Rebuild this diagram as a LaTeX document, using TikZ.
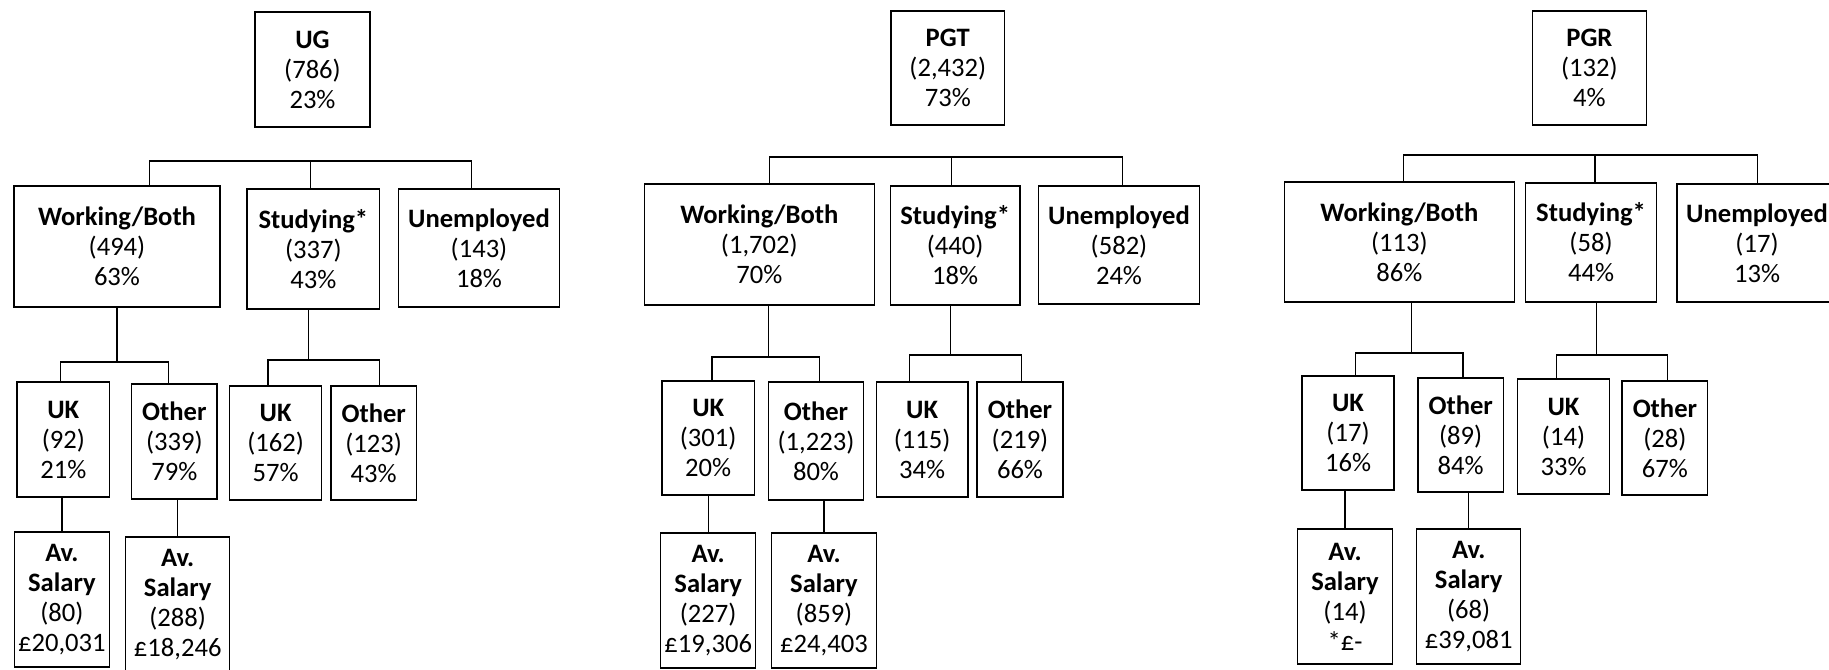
\documentclass[tikz,border=0pt]{standalone}
\usepackage{fontspec}
\setmainfont{Carlito}

\begin{document}
\begin{tikzpicture}[x=0.5pt,y=-0.5pt,line width=0.65pt,
		box/.style={draw, align=center, inner sep=0pt, font=\fontsize{13.3}{15}\selectfont}]
			\path[use as bounding box, clip] (0,0) rectangle (1829,669);

			\node[box, minimum width=57.5pt, minimum height=57.5pt] (ug) at (312.5,69.5) {\textbf{UG}\\(786)\\23\%};
			\node[box, minimum width=103pt, minimum height=60.5pt] (wb1) at (117,246.5) {\textbf{Working/Both}\\(494)\\63\%};
			\node[box, minimum width=66.3pt, minimum height=60pt] (st1) at (313.3,249) {\textbf{Studying*}\\(337)\\43\%};
			\node[box, minimum width=80.5pt, minimum height=59pt] (un1) at (479,248) {\textbf{Unemployed}\\(143)\\18\%};
			\node[box, minimum width=46.3pt, minimum height=57.5pt] (uk1) at (63.3,439.5) {\textbf{UK}\\(92)\\21\%};
			\node[box, minimum width=42.7pt, minimum height=57.5pt] (ot1) at (174.4,441.5) {\textbf{Other}\\(339)\\79\%};
			\node[box, minimum width=45.9pt, minimum height=57pt] (uk1s) at (275.6,443) {\textbf{UK}\\(162)\\57\%};
			\node[box, minimum width=42.7pt, minimum height=57pt] (ot1s) at (373.7,443) {\textbf{Other}\\(123)\\43\%};
			\node[box, minimum width=47.7pt, minimum height=67.5pt] (sa1) at (61.9,599.5) {\textbf{Av.}\\\textbf{Salary}\\(80)\\£20,031};
			\node[box, minimum width=52pt, minimum height=67.5pt] (sb1) at (177.7,604.5) {\textbf{Av.}\\\textbf{Salary}\\(288)\\£18,246};

			\coordinate (ugl) at (149.5,161);
			\coordinate (ugm) at (310.4,161);
			\coordinate (ugr) at (471.3,161);
			\draw (wb1.north -| ugl) -- (ugl) -- (ugr) -- (un1.north -| ugr);
			\draw (ugm) -- (st1.north -| ugm);
			\coordinate (w1l) at (60.5,362);
			\coordinate (w1r) at (168.8,362);
			\draw (wb1.south) -- (wb1.south |- w1l);
			\draw (uk1.north -| w1l) -- (w1l) -- (w1r) -- (ot1.north -| w1r);
			\coordinate (s1l) at (268,360);
			\coordinate (s1m) at (308.4,360);
			\coordinate (s1r) at (379.6,360);
			\draw (st1.south -| s1m) -- (s1m);
			\draw (uk1s.north -| s1l) -- (s1l) -- (s1r) -- (ot1s.north -| s1r);
			\draw (uk1.south -| sa1.north) -- (sa1.north);
			\draw (ot1.south -| sb1.north) -- (sb1.north);

			\node[box, minimum width=56.9pt, minimum height=57pt] (pgt) at (947.8,68) {\textbf{PGT}\\(2,432)\\73\%};
			\node[box, minimum width=114.9pt, minimum height=60.5pt] (wb2) at (759.3,244.5) {\textbf{Working/Both}\\(1,702)\\70\%};
			\node[box, minimum width=64.7pt, minimum height=59.5pt] (st2) at (955.2,245.5) {\textbf{Studying*}\\(440)\\18\%};
			\node[box, minimum width=80.7pt, minimum height=59pt] (un2) at (1119,245) {\textbf{Unemployed}\\(582)\\24\%};
			\node[box, minimum width=46.3pt, minimum height=57pt] (uk2) at (708.2,438) {\textbf{UK}\\(301)\\20\%};
			\node[box, minimum width=47.7pt, minimum height=59pt] (ot2) at (816,441) {\textbf{Other}\\(1,223)\\80\%};
			\node[box, minimum width=45.9pt, minimum height=57.5pt] (uk2s) at (922.1,439.5) {\textbf{UK}\\(115)\\34\%};
			\node[box, minimum width=42.9pt, minimum height=57.5pt] (ot2s) at (1020,439.5) {\textbf{Other}\\(219)\\66\%};
			\node[box, minimum width=47.5pt, minimum height=67.5pt] (sa2) at (708.2,600.5) {\textbf{Av.}\\\textbf{Salary}\\(227)\\£19,306};
			\node[box, minimum width=52.2pt, minimum height=67.5pt] (sb2) at (824,600.5) {\textbf{Av.}\\\textbf{Salary}\\(859)\\£24,403};

			\coordinate (pgtl) at (769.5,157);
			\coordinate (pgtm) at (951.7,157);
			\coordinate (pgtr) at (1122.6,157);
			\draw (wb2.north -| pgtl) -- (pgtl) -- (pgtr) -- (un2.north -| pgtr);
			\draw (pgtm) -- (st2.north -| pgtm);
			\coordinate (w2l) at (712.1,357);
			\coordinate (w2m) at (768.7,357);
			\coordinate (w2r) at (819.7,357);
			\draw (wb2.south -| w2m) -- (w2m);
			\draw (uk2.north -| w2l) -- (w2l) -- (w2r) -- (ot2.north -| w2r);
			\coordinate (s2l) at (909.8,355);
			\coordinate (s2m) at (950.2,355);
			\coordinate (s2r) at (1021.3,355);
			\draw (st2.south -| s2m) -- (s2m);
			\draw (uk2s.north -| s2l) -- (s2l) -- (s2r) -- (ot2s.north -| s2r);
			\draw (uk2.south -| sa2.north) -- (sa2.north);
			\draw (ot2.south -| sb2.north) -- (sb2.north);

			\node[box, minimum width=57.1pt, minimum height=57pt] (pgr) at (1589.4,68) {\textbf{PGR}\\(132)\\4\%};
			\node[box, minimum width=115.2pt, minimum height=60pt] (wb3) at (1399.4,242) {\textbf{Working/Both}\\(113)\\86\%};
			\node[box, minimum width=65.2pt, minimum height=59.5pt] (st3) at (1591,242.5) {\textbf{Studying*}\\(58)\\44\%};
			\node[box, minimum width=80pt, minimum height=59pt] (un3) at (1757,243) {\textbf{Unemployed}\\(17)\\13\%};
			\node[box, minimum width=46pt, minimum height=57pt] (uk3) at (1348,433) {\textbf{UK}\\(17)\\16\%};
			\node[box, minimum width=42.7pt, minimum height=57pt] (ot3) at (1460.7,435) {\textbf{Other}\\(89)\\84\%};
			\node[box, minimum width=45.9pt, minimum height=57.5pt] (uk3s) at (1563.5,436.5) {\textbf{UK}\\(14)\\33\%};
			\node[box, minimum width=42.9pt, minimum height=57pt] (ot3s) at (1664.9,438) {\textbf{Other}\\(28)\\67\%};
			\node[box, minimum width=47.7pt, minimum height=67.5pt] (sa3) at (1345,596.5) {\textbf{Av.}\\\textbf{Salary}\\(14)\\*£-};
			\node[box, minimum width=52pt, minimum height=67.5pt] (sb3) at (1468.7,596.5) {\textbf{Av.}\\\textbf{Salary}\\(68)\\£39,081};

			\coordinate (pgrl) at (1403.4,155);
			\coordinate (pgrm) at (1595,155);
			\coordinate (pgrr) at (1757.7,155);
			\draw (wb3.north -| pgrl) -- (pgrl) -- (pgrr) -- (un3.north -| pgrr);
			\draw (pgrm) -- (st3.north -| pgrm);
			\coordinate (w3l) at (1355.3,353);
			\coordinate (w3m) at (1411.7,353);
			\coordinate (w3r) at (1463.1,353);
			\draw (wb3.south -| w3m) -- (w3m);
			\draw (uk3.north -| w3l) -- (w3l) -- (w3r) -- (ot3.north -| w3r);
			\coordinate (s3l) at (1556.3,355);
			\coordinate (s3m) at (1596.5,355);
			\coordinate (s3r) at (1667.5,355);
			\draw (st3.south -| s3m) -- (s3m);
			\draw (uk3s.north -| s3l) -- (s3l) -- (s3r) -- (ot3s.north -| s3r);
			\draw (uk3.south -| sa3.north) -- (sa3.north);
			\draw (ot3.south -| sb3.north) -- (sb3.north);
		\end{tikzpicture}
\end{document}
